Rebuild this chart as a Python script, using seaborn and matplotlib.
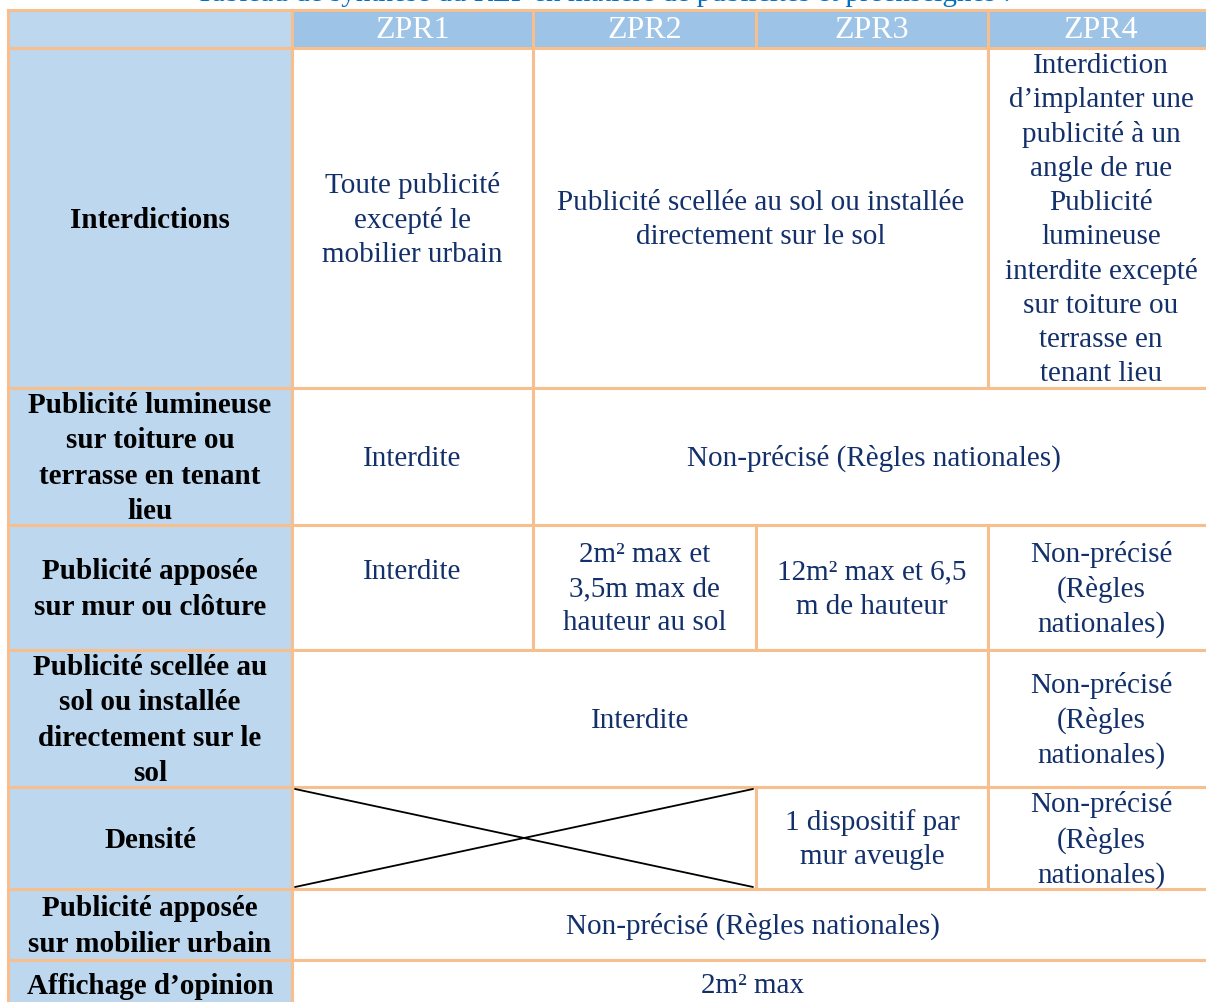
import matplotlib
matplotlib.use("Agg")
import matplotlib.pyplot as plt
import seaborn as sns
from matplotlib.patches import Rectangle

sns.set_theme(style="white")
plt.rcParams['font.family'] = ['Liberation Serif', 'DejaVu Serif']

# ---------------- data ----------------
title = "Tableau de synthèse du RLP en matière de publicités et préenseignes :"
zones = ["ZPR1", "ZPR2", "ZPR3", "ZPR4"]
row_labels = [
    "Interdictions",
    "Publicité lumineuse\nsur toiture ou\nterrasse en tenant\nlieu",
    "Publicité apposée\nsur mur ou clôture",
    "Publicité scellée au\nsol ou installée\ndirectement sur le\nsol",
    "Densité",
    "Publicité apposée\nsur mobilier urbain",
    "Affichage d’opinion",
]
NP_short = "Non-précisé\n(Règles\nnationales)"
NP_long = "Non-précisé (Règles nationales)"

# each row: list of (text, column span); None = crossed-out cell
row_interdictions = [
    ("Toute publicité\nexcepté le\nmobilier urbain", 1),
    ("Publicité scellée au sol ou installée\ndirectement sur le sol", 2),
    ("Interdiction\nd’implanter une\npublicité à un\nangle de rue\nPublicité\nlumineuse\n"
     "interdite excepté\nsur toiture ou\nterrasse en\ntenant lieu", 1),
]
row_lumineuse = [("Interdite", 1), (NP_long, 3)]
row_mur = [("Interdite", 1), ("2m² max et\n3,5m max de\nhauteur au sol", 1),
           ("12m² max et 6,5\nm de hauteur", 1), (NP_short, 1)]
row_scellee = [("Interdite", 3), (NP_short, 1)]
row_densite = [(None, 2), ("1 dispositif par\nmur aveugle", 1), (NP_short, 1)]
row_mobilier = [(NP_long, 4)]
row_opinion = [("2m² max", 4)]
rows = [row_interdictions, row_lumineuse, row_mur, row_scellee,
        row_densite, row_mobilier, row_opinion]

# ---------------- layout ----------------
col_edges = [8, 292, 533, 756, 988, 1214]
row_edges = [10, 48, 388, 525, 650, 787, 889, 960, 1010]
# per-cell vertical tweaks (row, col) -> y
y_override = {(2, 1): 572}

border = "#F7BE8E"
head_bg = "#9DC3E6"
label_bg = "#BDD7EE"
txt = "#13306A"
FS = 21
LS = 1.40
DY = 2

fig = plt.figure(figsize=(12.06, 10.02), dpi=100)
ax = fig.add_axes([0, 0, 1, 1])
ax.set_xlim(0, 1206)
ax.set_ylim(1002, 0)
ax.axis("off")

def cell(x0, x1, y0, y1, fc):
    ax.add_patch(Rectangle((x0, y0), x1 - x0, y1 - y0, facecolor=fc,
                           edgecolor=border, linewidth=2.2, zorder=2))

# header
cell(col_edges[0], col_edges[1], row_edges[0], row_edges[1], label_bg)
for j, z in enumerate(zones):
    x0, x1 = col_edges[j + 1], col_edges[j + 2]
    cell(x0, x1, row_edges[0], row_edges[1], head_bg)
    ax.text((x0 + x1) / 2, (row_edges[0] + row_edges[1]) / 2 + 1, z,
            color="white", fontsize=23, ha="center", va="center", zorder=5)

# body
for i, (lab, row) in enumerate(zip(row_labels, rows)):
    y0, y1 = row_edges[i + 1], row_edges[i + 2]
    yc = (y0 + y1) / 2 + DY
    if i == len(rows) - 1:
        yc = 986
    cell(col_edges[0], col_edges[1], y0, y1, label_bg)
    ax.text((col_edges[0] + col_edges[1]) / 2, yc, lab, color="black",
            fontsize=FS, fontweight="bold", ha="center", va="center",
            multialignment="center", linespacing=LS, zorder=5)
    c = 1
    for text, span in row:
        x0, x1 = col_edges[c], col_edges[c + span]
        cell(x0, x1, y0, y1, "white")
        if text is None:
            ax.plot([x0 + 3, x1 - 3], [y0 + 2, y1 - 2], color="black", lw=1.3, zorder=4)
            ax.plot([x0 + 3, x1 - 3], [y1 - 2, y0 + 2], color="black", lw=1.3, zorder=4)
        else:
            yy = y_override.get((i, c), yc)
            ax.text((x0 + x1) / 2, yy, text, color=txt, fontsize=FS,
                    ha="center", va="center", multialignment="center",
                    linespacing=LS, zorder=5)
        c += span

# clipped title at the top
ax.text(603, 1, title, color="#0070C0", fontsize=FS, ha="center",
        va="baseline", zorder=6, clip_on=False)

fig.savefig("out.png", dpi=100)
